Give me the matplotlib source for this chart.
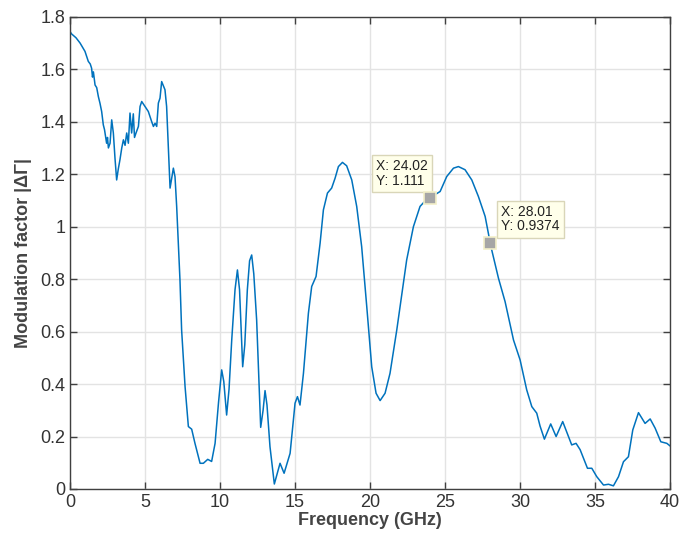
import matplotlib
matplotlib.use('Agg')
import matplotlib.pyplot as plt

# values, frequency in GHz
freq = [0.0, 0.1, 0.4, 0.67, 1.0, 1.22, 1.35, 1.44, 1.5, 1.56, 1.67, 1.78, 1.89, 2.0, 2.11, 2.22,
        2.3, 2.44, 2.5, 2.56, 2.67, 2.78, 2.89, 3.0, 3.11, 3.22, 3.33, 3.45, 3.56, 3.67, 3.78,
        3.89, 4.0, 4.11, 4.22, 4.3, 4.4, 4.56, 4.67, 4.78, 5.0, 5.22, 5.44, 5.56, 5.67, 5.78,
        5.89, 6.0, 6.11, 6.33, 6.44, 6.67, 6.89, 7.0, 7.11, 7.33, 7.44, 7.67, 7.89, 8.11,
        8.33, 8.67, 8.89, 9.18, 9.44, 9.67, 9.9, 10.11, 10.25, 10.44, 10.6, 10.78, 11.0, 11.16,
        11.3, 11.51, 11.65, 11.82, 11.97, 12.11, 12.25, 12.44, 12.71, 12.87, 13.0, 13.13, 13.33,
        13.62, 13.82, 14.0, 14.27, 14.67, 15.0, 15.16, 15.33, 15.56,
        15.89, 16.11, 16.4, 16.67, 16.89, 17.16, 17.44, 17.67, 17.89, 18.16, 18.44, 18.78,
        19.11, 19.44, 19.78, 20.11, 20.4, 20.67, 21.0, 21.33, 21.78, 22.22, 22.44, 22.89,
        23.33, 23.78, 24.02, 24.67, 25.11, 25.56, 25.89, 26.33, 26.78, 27.22, 27.67, 28.01,
        28.11, 28.56, 29.0, 29.56, 30.0, 30.44, 30.78, 31.11, 31.33, 31.62, 32.04, 32.4,
        32.84, 33.44, 33.73, 34.0, 34.49, 34.78, 35.11, 35.56, 35.89, 36.22, 36.56, 36.89,
        37.22, 37.51, 37.89, 38.33, 38.67, 39.0, 39.38, 39.78, 40.0]
mod = [1.744, 1.735, 1.72, 1.70, 1.668, 1.63, 1.62, 1.604, 1.57, 1.59, 1.54, 1.53, 1.496, 1.47,
       1.439, 1.388, 1.37, 1.318, 1.34, 1.30, 1.318, 1.407, 1.357, 1.26, 1.178, 1.22, 1.255,
       1.30, 1.331, 1.31, 1.357, 1.318, 1.433, 1.357, 1.43, 1.34, 1.357, 1.382, 1.458, 1.477,
       1.458, 1.439, 1.401, 1.382, 1.394, 1.382, 1.471, 1.49, 1.553, 1.522, 1.458, 1.147, 1.223,
       1.19, 1.077, 0.797, 0.606, 0.39, 0.238, 0.228, 0.174, 0.098, 0.098, 0.113, 0.105, 0.174,
       0.33, 0.454, 0.41, 0.282, 0.38, 0.568, 0.76, 0.835, 0.76, 0.466, 0.55, 0.759, 0.87, 0.892,
       0.82, 0.645, 0.235, 0.30, 0.375, 0.32, 0.161, 0.019, 0.06,
       0.098, 0.06, 0.136, 0.327, 0.352, 0.32, 0.441, 0.67, 0.772, 0.81, 0.937, 1.064, 1.128,
       1.147, 1.185, 1.229, 1.245, 1.232, 1.178, 1.077, 0.924, 0.695, 0.466, 0.365, 0.337,
       0.365, 0.441, 0.606, 0.785, 0.873, 1.0, 1.077, 1.105, 1.111, 1.134, 1.191, 1.223, 1.229,
       1.217, 1.178, 1.115, 1.039, 0.9374, 0.911, 0.803, 0.714, 0.568, 0.492, 0.378, 0.314,
       0.289, 0.24, 0.19, 0.248, 0.2, 0.257, 0.168, 0.174, 0.15, 0.079, 0.079, 0.047, 0.015,
       0.018, 0.012, 0.047, 0.104, 0.123, 0.225, 0.291, 0.25, 0.267, 0.232, 0.18, 0.174, 0.164]

tips_x = [24.02, 28.01]
tips_y = [1.111, 0.9374]

plt.rcParams['font.family'] = ['Liberation Sans', 'DejaVu Sans']
fig = plt.figure(figsize=(6.93, 5.36), dpi=100)
ax = fig.add_axes([0.101, 0.0877, 0.866, 0.881])

ax.plot(freq, mod, color='#0072BD', linewidth=1.1)

ax.set_xlim(0, 40)
ax.set_ylim(0, 1.8)
ax.set_xticks(range(0, 41, 5))
ax.set_yticks([0, 0.2, 0.4, 0.6, 0.8, 1, 1.2, 1.4, 1.6, 1.8])
ax.set_yticklabels(['0', '0.2', '0.4', '0.6', '0.8', '1', '1.2', '1.4', '1.6', '1.8'])
ax.grid(True, color='#e3e3e3', linewidth=1)
ax.set_axisbelow(True)
ax.tick_params(direction='in', length=5, width=1, colors='#404040', labelsize=13,
               top=True, right=True, labelcolor='#333333')
for s in ax.spines.values():
    s.set_color('#404040')
    s.set_linewidth(1)

ax.set_xlabel('Frequency (GHz)', fontsize=13, fontweight='bold', color='#444444', labelpad=1)
ax.set_ylabel('Modulation factor |ΔΓ|', fontsize=13, fontweight='bold', color='#444444', labelpad=6)

# MATLAB style data tips
ax.plot(tips_x, tips_y, 's', markersize=8, markerfacecolor='#a6a6a6',
        markeredgecolor='#f2efc8', markeredgewidth=1.2, zorder=5)
box = dict(boxstyle='square,pad=0.3', facecolor='#ffffea', edgecolor='#d9d6b8', linewidth=1)
ax.annotate('X: %.2f\nY: %.4g' % (tips_x[0], tips_y[0]), (tips_x[0], tips_y[0]),
            xytext=(-2, 7), textcoords='offset points', ha='right', va='bottom',
            multialignment='left', fontsize=10, color='#222222', bbox=box, linespacing=1.05)
ax.annotate('X: %.2f\nY: %.4g' % (tips_x[1], tips_y[1]), (tips_x[1], tips_y[1]),
            xytext=(8, 7), textcoords='offset points', ha='left', va='bottom',
            multialignment='left', fontsize=10, color='#222222', bbox=box, linespacing=1.05)

fig.savefig('out.png', dpi=100)
